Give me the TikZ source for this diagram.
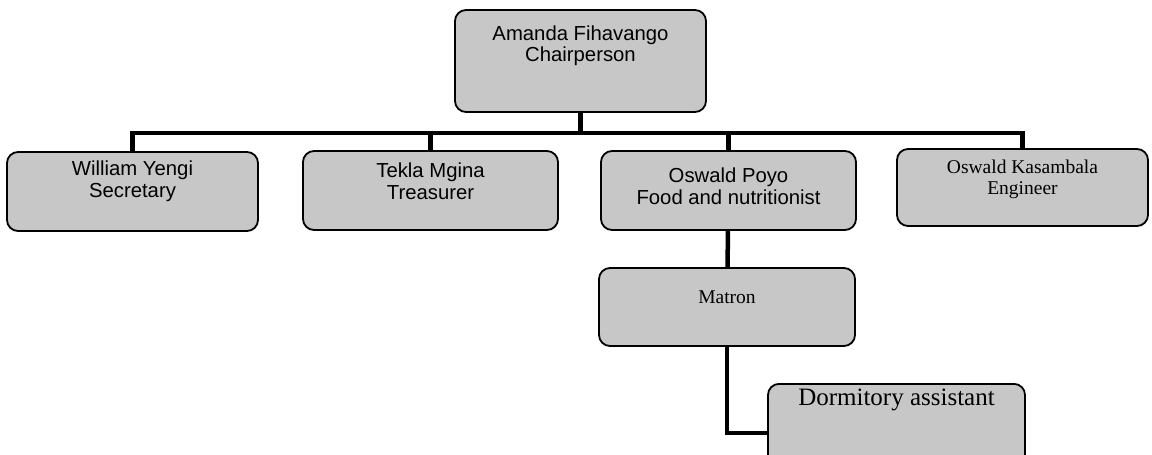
\documentclass[tikz,border=0pt]{standalone}
\usepackage{fontspec}
\setmainfont{Liberation Serif}
\newfontfamily\arialfont{Liberation Sans}
\usetikzlibrary{positioning}

\begin{document}
\begin{tikzpicture}[x=1pt, y=-1pt,
    member/.style={draw, line width=1.8pt, rounded corners=11pt, fill=black!22,
      minimum width=251pt, minimum height=79pt, inner sep=0pt, align=center},
    sans/.style={font=\arialfont\fontsize{20.3}{21.5}\selectfont},
    serif/.style={font=\fontsize{19.5}{21}\selectfont},
    link/.style={line width=4.5pt}]
    \useasboundingbox (0,0) rectangle (1152,455);

    \node[member, sans, minimum height=102pt, text depth=35pt] (amanda) at (580.5,61) {Amanda Fihavango\\Chairperson};
    \node[member, sans, text depth=25pt] (william) at (132.5,191.5) {William Yengi\\Secretary};
    \node[member, sans, minimum width=255pt, text depth=19pt] (tekla) at (430.5,190.5) {Tekla Mgina\\Treasurer};
    \node[member, sans, minimum width=255pt, text depth=9pt] (poyo) at (728.5,190.5) {Oswald Poyo\\Food and nutritionist};
    \node[member, serif, minimum height=77pt, text depth=21pt] (kasambala) at (1022.5,187.5) {Oswald Kasambala\\Engineer};
    \node[member, serif, minimum width=256pt, minimum height=78pt, text depth=20pt] (matron) at (727,307) {Matron};
    \node[member, serif, font=\fontsize{25}{28}\selectfont, minimum width=257pt, minimum height=0pt,
      inner ysep=5pt, text height=17pt, text depth=71pt, anchor=north] (dorm) at (896.5,383) {Dormitory assistant};

    \coordinate (bar) at (580.5,133);
    \draw[link] (amanda) -- (bar);
    \draw[link] (william.north) |- (bar) -| (kasambala.north);
    \draw[link] (tekla.north) -- (tekla.north |- bar);
    \draw[link] (poyo.north) -- (poyo.north |- bar);
    \draw[link] (poyo) -- (matron);
    \draw[link] (matron.south) |- (dorm.west);
\end{tikzpicture}
\end{document}
